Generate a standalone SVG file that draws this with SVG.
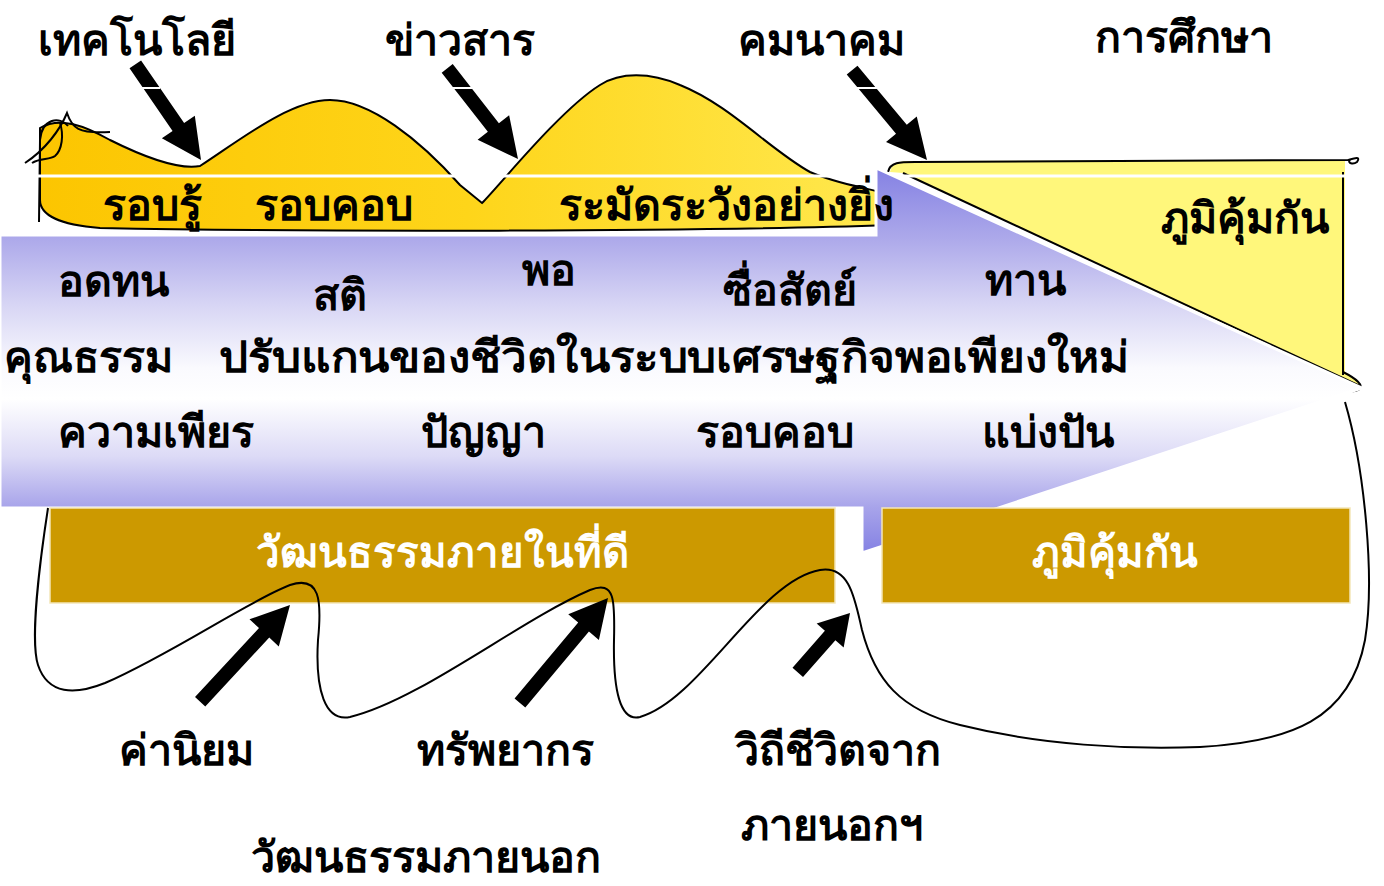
<svg xmlns="http://www.w3.org/2000/svg" width="1384" height="886" viewBox="0 0 1384 886">
<defs>
<linearGradient id="blueG" gradientUnits="userSpaceOnUse" x1="0" y1="168" x2="0" y2="553">
<stop offset="0" stop-color="#8481e3"/>
<stop offset="0.18" stop-color="#aca8ea"/>
<stop offset="0.35" stop-color="#d6d4f4"/>
<stop offset="0.52" stop-color="#fafafe"/>
<stop offset="0.6" stop-color="#ffffff"/>
<stop offset="0.75" stop-color="#dcdaf6"/>
<stop offset="0.88" stop-color="#a8a4ea"/>
<stop offset="1" stop-color="#8481e3"/>
</linearGradient>
<linearGradient id="yelG" gradientUnits="userSpaceOnUse" x1="30" y1="0" x2="905" y2="0">
<stop offset="0" stop-color="#fcc500"/>
<stop offset="0.5" stop-color="#fed51a"/>
<stop offset="1" stop-color="#ffe951"/>
</linearGradient>
<style>
.lbl{font-family:"Liberation Sans","Noto Sans",sans-serif;font-weight:bold;font-size:43px;fill:#000;text-anchor:middle}
.wlbl{font-family:"Liberation Sans","Noto Sans",sans-serif;font-weight:bold;font-size:42px;fill:#fff;text-anchor:middle}
.ln{fill:none;stroke:#000;stroke-width:2}
.blk{fill:#000}
.gold{fill:#cc9900;stroke:#f3e6b8;stroke-width:1.5}
</style>
</defs>
<rect width="1384" height="886" fill="#fff"/>

<!-- yellow wave band -->
<g id="wave">
<path d="M40,128 C60,116 85,126 110,140 C140,155 178,170 200,166 C240,140 290,100 330,100 C370,100 420,140 460,185 L482,203 C500,185 560,110 600,85 C620,72 650,72 680,85 C730,105 770,150 810,172 C840,185 870,188 890,195 C905,200 905,222 890,225 C700,232 300,232 100,228 C60,225 40,215 40,200 Z" fill="url(#yelG)" stroke="#000" stroke-width="2"/>
<path class="ln" d="M39,222 L40,140 C42,118 60,116 68,126"/>
<path class="ln" d="M25,163 C45,150 60,130 67,113 C72,128 78,134 110,132"/>
<path class="ln" d="M32,163 C40,158 50,160 55,156 C62,150 64,135 60,123"/>
</g>

<!-- right yellow shape -->
<g id="shield">
<path d="M890,172 C892,162 900,161 915,161 L1345,160 L1345,372 C1355,378 1362,384 1361,388 L903,173 Z" fill="#fff77b"/>
<path class="ln" d="M888,172 C890,162 900,162 915,162 L1348,160 C1355,158 1361,156 1357,162 C1353,165 1347,163 1350,160"/>
<path class="ln" d="M1343,172 L1343,375"/>
<path class="ln" d="M903,173 L1360,386"/>
<path class="ln" d="M1343,372 C1355,378 1366,386 1358,390 C1355,392 1350,391 1347,390"/>
</g>

<line x1="33" y1="176" x2="1345" y2="176" stroke="#fff" stroke-width="3"/>

<!-- big arrow -->
<g id="big-arrow">
<path d="M0,235 H876 V168 L1362,388 L862,553 V508 H0 Z" fill="url(#blueG)" stroke="#fff" stroke-width="3"/>
</g>

<g id="box-inner"><rect class="gold" x="50" y="508" width="785" height="95"/></g>
<g id="box-immune"><rect class="gold" x="882" y="508" width="468" height="95"/></g>

<!-- connectors -->
<g id="connectors">
<path class="ln" d="M48,508 C40,560 30,640 38,665 C48,695 75,695 105,683 C170,655 250,600 290,585 C320,575 322,600 318,640 C315,690 325,722 350,717 C420,700 520,620 590,590 C615,580 615,600 614,640 C613,690 620,722 640,717 C700,700 760,580 820,570 C850,565 855,600 862,630 C875,680 900,710 960,725 C1040,745 1130,750 1200,747 C1290,742 1350,720 1365,640 C1375,580 1365,470 1345,402"/>
<polygon class="blk" transform="translate(201,160) rotate(55.5)" points="-116,-7 -40,-7 -40,-20 0,0 -40,20 -40,7 -116,7"/>
<polygon class="blk" transform="translate(518,159) rotate(52)" points="-115,-7 -40,-7 -40,-20 0,0 -40,20 -40,7 -115,7"/>
<polygon class="blk" transform="translate(927,160) rotate(50.2)" points="-117,-7 -40,-7 -40,-20 0,0 -40,20 -40,7 -117,7"/>
<polygon class="blk" transform="translate(290,605) rotate(-47.1)" points="-132,-7 -38,-7 -38,-20 0,0 -38,20 -38,7 -132,7"/>
<polygon class="blk" transform="translate(608,598) rotate(-50)" points="-137,-7 -38,-7 -38,-20 0,0 -38,20 -38,7 -137,7"/>
<polygon class="blk" transform="translate(850,613) rotate(-48.6)" points="-79,-7 -30,-7 -30,-18 0,0 -30,18 -30,7 -79,7"/>
<line x1="128" y1="88" x2="160" y2="88" stroke="#fff" stroke-width="2"/>
<line x1="443" y1="88" x2="475" y2="88" stroke="#fff" stroke-width="2"/>
<line x1="852" y1="88" x2="884" y2="88" stroke="#fff" stroke-width="2"/>
</g>

<!-- labels -->
<g id="t-tech"><text class="lbl" x="137" y="55">เทคโนโลยี</text></g>
<g id="t-news"><text class="lbl" x="460" y="55">ข่าวสาร</text></g>
<g id="t-transport"><text class="lbl" x="821" y="55">คมนาคม</text></g>
<g id="t-edu"><text class="lbl" x="1184" y="52">การศึกษา</text></g>
<g id="t-knowledge"><text class="lbl" x="152" y="220">รอบรู้</text></g>
<g id="t-careful1"><text class="lbl" x="334" y="220">รอบคอบ</text></g>
<g id="t-caution"><text class="lbl" x="726" y="220">ระมัดระวังอย่างยิ่ง</text></g>
<g id="t-immune1"><text class="lbl" x="1245" y="233">ภูมิคุ้มกัน</text></g>
<g id="t-patience"><text class="lbl" x="113" y="296">อดทน</text></g>
<g id="t-sati"><text class="lbl" x="340" y="310">สติ</text></g>
<g id="t-enough"><text class="lbl" x="549" y="285">พอ</text></g>
<g id="t-honest"><text class="lbl" x="790" y="305">ซื่อสัตย์</text></g>
<g id="t-give"><text class="lbl" x="1025" y="295">ทาน</text></g>
<g id="t-virtue"><text class="lbl" x="88" y="372">คุณธรรม</text></g>
<g id="t-main"><text class="lbl" x="674" y="372" textLength="910" lengthAdjust="spacingAndGlyphs">ปรับแกนของชีวิตในระบบเศรษฐกิจพอเพียงใหม่</text></g>
<g id="t-effort"><text class="lbl" x="156" y="447">ความเพียร</text></g>
<g id="t-wisdom"><text class="lbl" x="483" y="447">ปัญญา</text></g>
<g id="t-careful2"><text class="lbl" x="775" y="447">รอบคอบ</text></g>
<g id="t-share"><text class="lbl" x="1048" y="447">แบ่งปัน</text></g>
<g id="t-inner"><text class="wlbl" x="442" y="567">วัฒนธรรมภายในที่ดี</text></g>
<g id="t-immune2"><text class="wlbl" x="1115" y="567">ภูมิคุ้มกัน</text></g>
<g id="t-values"><text class="lbl" x="186" y="765">ค่านิยม</text></g>
<g id="t-resources"><text class="lbl" x="505" y="765">ทรัพยากร</text></g>
<g id="t-lifestyle"><text class="lbl" x="838" y="765">วิถีชีวิตจาก</text></g>
<g id="t-lifestyle2"><text class="lbl" x="832" y="840">ภายนอกฯ</text></g>
<g id="t-outer"><text class="lbl" x="426" y="872">วัฒนธรรมภายนอก</text></g>
</svg>
